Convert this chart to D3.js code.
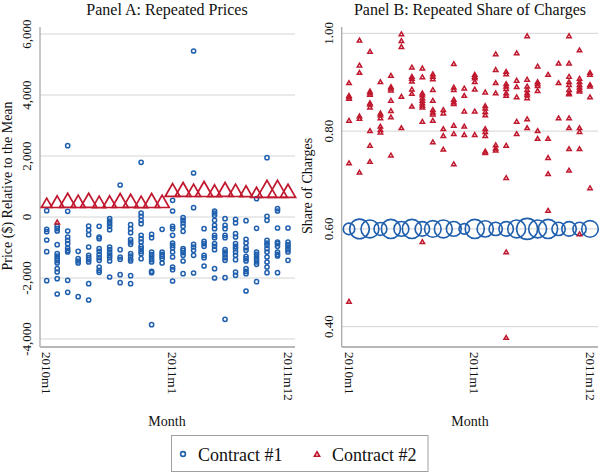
<!DOCTYPE html>
<html><head><meta charset="utf-8">
<script src="https://cdn.jsdelivr.net/npm/d3@7"></script>
<style>body{margin:0;background:#fff}svg{display:block}text{font-family:"Liberation Serif","Times New Roman",serif;fill:#111}</style>
</head><body><svg id="c" width="600" height="473"></svg>
<script>
// ---------- data ----------
const monthCount = 24;
const xTickMonths = [0, 12, 23];
const xTickLabels = ["2010m1", "2011m1", "2011m12"];
const priceTicks = [-4000, -2000, 0, 2000, 4000, 6000];
const shareTicks = [0.40, 0.60, 0.80, 1.00];

// Panel A: Contract #1 prices relative to mean, per month
const c1Prices = [
 [208,-404,-481,-754,-1137,-2087],
 [-306,-383,-459,-907,-1202,-1279,-1355,-1432,-1508,-1694,-1803,-2022,-2525],
 [2339,186,-459,-656,-765,-874,-1016,-1093,-1148,-2077,-2470],
 [-1126,-1366,-1443,-1508,-2612],
 [-295,-437,-579,-984,-1257,-1333,-1399,-1475,-2186,-2722],
 [-306,-656,-710,-1038,-1126,-1235,-1333,-1421,-1639,-1749,-1814],
 [-55,-131,-219,-306,-415,-984,-1071,-1169,-1257,-1333,-1443,-1967],
 [1049,-1071,-1311,-1388,-1891,-2153],
 [-251,-383,-514,-743,-820,-896,-1202,-1279,-1377,-1443,-1924,-2186],
 [1792,131,22,-109,-219,-601,-710,-820,-962,-1038,-1126,-1202,-1366],
 [-568,-678,-1148,-1235,-1311,-1399,-1475,-1782,-1825,-3530],
 [-404,-1148,-1224,-1290,-1366,-1508],
 [547,197,-306,-383,-601,-852,-929,-1005,-1148,-1311,-1639,-1727,-2098],
 [-22,-109,-197,-306,-470,-1038,-1093,-1169,-1257,-1443,-1858],
 [5443,1443,306,-896,-984,-1093,-1257,-1836],
 [-383,-798,-874,-962,-1257,-1333,-1607],
 [197,131,55,-109,-273,-383,-601,-678,-874,-962,-1071,-1694,-2000],
 [-55,-273,-383,-601,-678,-1071,-1148,-1235,-1333,-1421,-1989,-3355],
 [-77,-197,-546,-656,-874,-962,-1038,-1148,-1257,-1399,-1803,-1913],
 [-120,-732,-852,-1005,-1093,-1290,-1366,-1443,-1694,-1782,-1858,-2426],
 [601,-372,-1148,-1224,-1311,-1399,-1475,-1552,-2120],
 [1946,22,-109,-765,-852,-929,-1038,-1148,-1311,-1475,-1639,-1825],
 [273,197,-361,-820,-874,-962,-1148,-1224,-1279,-1825],
 [-361,-820,-907,-984,-1071,-1148,-1421]
];
// Panel A: Contract #2 repeated price per month and its frequency (marker weight)
const c2Price = [465,503,547,514,547,497,503,541,530,497,541,514, 885,902,874,918,863,902,874,847,809,924,924,858];
const c2PriceFreq = [12,19,28,21,28,18,19,27,24,18,27,21, 23,27,21,31,19,27,21,16,14,40,40,24];
const c2PriceSingles = [[1, -164]];

// Panel B: Contract #1 repeated share per month and its frequency
const c1Share = Array.from({length: monthCount}, () => 0.60);
const c1ShareFreq = [12,35,29,15,33,20,33,19,25,29,20,10,33,24,16,19,29,40,29,33,16,19,16,25];
// Panel B: Contract #2 shares per month
const c2Shares = [
 [0.899,0.873,0.870,0.867,0.822,0.735,0.452],
 [0.986,0.935,0.920,0.831,0.826,0.716],
 [0.963,0.882,0.878,0.875,0.858,0.855,0.849,0.801,0.771,0.738],
 [0.901,0.837,0.833,0.827,0.810,0.803,0.798],
 [0.914,0.891,0.888,0.884,0.863,0.842,0.829,0.751],
 [0.999,0.985,0.973,0.871,0.807],
 [0.931,0.912,0.908,0.902,0.886,0.877,0.851],
 [0.929,0.911,0.878,0.874,0.868,0.863,0.858,0.853,0.849,0.820,0.574],
 [0.917,0.912,0.907,0.885,0.863,0.844,0.839,0.835,0.822,0.778],
 [0.844,0.837,0.805,0.791,0.763],
 [0.938,0.890,0.885,0.865,0.860,0.856,0.812,0.795,0.733],
 [0.888,0.873,0.841,0.810,0.793],
 [0.916,0.912,0.909,0.901,0.886,0.841,0.793],
 [0.880,0.852,0.847,0.840,0.833,0.805,0.799,0.791,0.759,0.756],
 [0.958,0.926,0.899,0.878,0.772,0.765,0.761],
 [0.922,0.917,0.897,0.892,0.887,0.878,0.873,0.771,0.705,0.553,0.378],
 [0.960,0.904,0.891,0.870,0.820,0.795],
 [0.995,0.906,0.892,0.885,0.878,0.874,0.868,0.825,0.807],
 [0.933,0.901,0.897,0.893,0.883,0.801,0.785],
 [0.916,0.785,0.746,0.713,0.638],
 [0.939,0.899,0.827],
 [0.995,0.939,0.912,0.901,0.895,0.885,0.878,0.876,0.827,0.807,0.764,0.720],
 [0.966,0.908,0.901,0.895,0.890,0.885,0.882,0.807,0.799,0.764,0.590],
 [0.920,0.916,0.895,0.892,0.870,0.684]
];
const legendLabels = ["Contract #1", "Contract #2"];
const panelTitles = ["Panel A: Repeated Prices", "Panel B: Repeated Share of Charges"];

// ---------- styles ----------
const BLUE = "#1f5fad", RED = "#c0182e", GRID = "#d4d4d4", AXIS = "#a8a8a8";
const svg = d3.select("#c");

function triPath(h) {
  const w = h * 1.1547;
  return `M0,${-h/2}L${w/2},${h/2}L${-w/2},${h/2}Z`;
}
const flat = arr => arr.flatMap((vals, m) => vals.map(v => ({m, v})));

function panel(cfg) {
  const g = svg.append("g");
  const x = d3.scaleLinear().domain([0, monthCount - 1]).range(cfg.xr);
  const y = d3.scaleLinear().domain(cfg.yd).range(cfg.yr);
  g.selectAll(".grid").data(cfg.ticks).join("line")
    .attr("x1", cfg.left).attr("x2", cfg.right)
    .attr("y1", d => y(d)).attr("y2", d => y(d))
    .attr("stroke", GRID).attr("stroke-width", 1);
  g.append("line").attr("x1", cfg.left).attr("x2", cfg.left).attr("y1", cfg.top).attr("y2", cfg.bottom)
    .attr("stroke", AXIS).attr("stroke-width", 1.3);
  g.append("line").attr("x1", cfg.left).attr("x2", cfg.right).attr("y1", cfg.bottom).attr("y2", cfg.bottom)
    .attr("stroke", "#b8b8b8").attr("stroke-width", 2);
  g.selectAll(".yt").data(cfg.ticks).join("text")
    .attr("transform", d => `translate(${cfg.left - 9},${y(d)}) rotate(-90)`)
    .attr("text-anchor", "middle").attr("font-size", 13)
    .text(cfg.fmt);
  g.selectAll(".xt").data(xTickMonths).join("text")
    .attr("transform", (d) => `translate(${x(d) - 4.3},${cfg.bottom + 5}) rotate(90)`)
    .attr("text-anchor", "start").attr("font-size", 13)
    .text((d, i) => xTickLabels[i]);
  g.append("text").attr("x", cfg.titleX).attr("y", 14.5).attr("text-anchor", "middle")
    .attr("font-size", 16).text(cfg.title);
  g.append("text").attr("transform", `translate(${cfg.ytX},${cfg.ytY}) rotate(-90)`)
    .attr("text-anchor", "middle").attr("font-size", 14).text(cfg.ytitle);
  g.append("text").attr("x", cfg.titleX).attr("y", 425.5).attr("text-anchor", "middle")
    .attr("font-size", 14).text("Month");
  return {g, x, y};
}

// Panel A
const A = panel({xr: [46.7, 288], yd: [-4000, 6000], yr: [339, 34], ticks: priceTicks,
  left: 40, right: 295, top: 27, bottom: 347, fmt: d => d3.format(",")(d).replace("−", "-"),
  title: panelTitles[0], titleX: 167, ytitle: "Price ($) Relative to the Mean", ytX: 12, ytY: 186});
A.g.selectAll(".c1").data(flat(c1Prices)).join("circle")
  .attr("cx", d => A.x(d.m)).attr("cy", d => A.y(d.v)).attr("r", 2.1)
  .attr("fill", "none").attr("stroke", BLUE).attr("stroke-width", 1.5);
const triScaleA = d3.scaleSqrt().domain([0, 40]).range([0, 17]);
A.g.selectAll(".c2").data(c2Price.map((v, m) => ({m, v, f: c2PriceFreq[m]}))).join("path")
  .attr("transform", d => `translate(${A.x(d.m)},${A.y(d.v)})`)
  .attr("d", d => triPath(triScaleA(d.f)))
  .attr("fill", "none").attr("stroke", RED).attr("stroke-width", 1.7);
A.g.selectAll(".c2s").data(c2PriceSingles).join("path")
  .attr("transform", d => `translate(${A.x(d[0])},${A.y(d[1])})`)
  .attr("d", triPath(4)).attr("fill", "none").attr("stroke", RED).attr("stroke-width", 1.5);

// Panel B
const B = panel({xr: [349, 590], yd: [0.4, 1.0], yr: [326.7, 33.3], ticks: shareTicks,
  left: 341.7, right: 598, top: 27, bottom: 347, fmt: d3.format(".2f"),
  title: panelTitles[1], titleX: 470, ytitle: "Share of Charges", ytX: 312, ytY: 186});
const rScaleB = d3.scaleSqrt().domain([0, 40]).range([0, 10.5]);
B.g.selectAll(".c1").data(c1Share.map((v, m) => ({m, v, f: c1ShareFreq[m]}))).join("circle")
  .attr("cx", d => B.x(d.m)).attr("cy", d => B.y(d.v)).attr("r", d => rScaleB(d.f))
  .attr("fill", "none").attr("stroke", BLUE).attr("stroke-width", 1.6);
B.g.selectAll(".c2").data(flat(c2Shares)).join("path")
  .attr("transform", d => `translate(${B.x(d.m)},${B.y(d.v)})`)
  .attr("d", triPath(3.8)).attr("fill", "none").attr("stroke", RED).attr("stroke-width", 1.5);

// Legend
const lg = svg.append("g");
lg.append("rect").attr("x", 171.5).attr("y", 435.5).attr("width", 256.5).attr("height", 36)
  .attr("fill", "#fff").attr("stroke", "#a0a0a0").attr("stroke-width", 1);
lg.append("circle").attr("cx", 183).attr("cy", 454).attr("r", 2.4)
  .attr("fill", "none").attr("stroke", BLUE).attr("stroke-width", 1.6);
lg.append("path").attr("transform", "translate(317,454)").attr("d", triPath(4.5))
  .attr("fill", "none").attr("stroke", RED).attr("stroke-width", 1.6);
lg.selectAll(".lt").data(legendLabels).join("text")
  .attr("x", (d, i) => i === 0 ? 198 : 332).attr("y", 461).attr("font-size", 18).text(d => d);
</script></body></html>
